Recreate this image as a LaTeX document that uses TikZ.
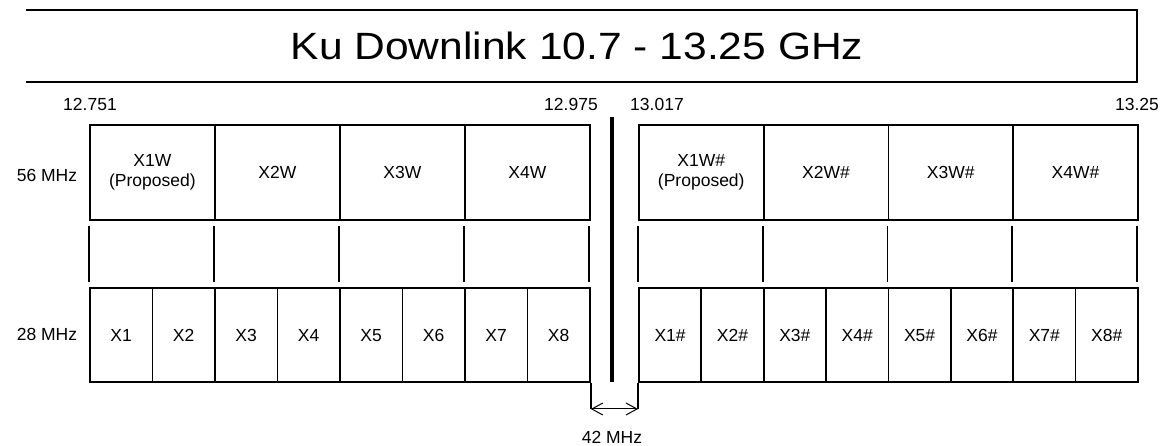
\documentclass[tikz,border=0pt]{standalone}
\usepackage{fontspec}
\setmainfont{Liberation Sans}
\usetikzlibrary{arrows.meta}
\begin{document}
\begin{tikzpicture}[x=1pt,y=-1pt,
  frame/.style={line width=1.8pt, line cap=rect},
  cell/.style={draw, line width=1.8pt, inner sep=0pt, anchor=north west, align=center,
    font=\fontsize{17.5}{20}\selectfont},
  onecell/.style={cell, text height=12.6pt, text depth=0pt},
  lbl/.style={inner sep=0pt, font=\fontsize{17.5}{20}\selectfont},
  gapline/.style={line width=3.5pt},
  dim/.style={line width=1pt, {Straight Barb[length=11pt,width=12pt]}-{Straight Barb[length=11pt,width=12pt]}}]
\useasboundingbox (0,0) rectangle (1168,446);
% title
\draw[frame] (27,10) -- (1137,10) -- (1137,82) -- (27,82);
\node[inner sep=0pt, font=\fontsize{38}{40}\selectfont] (title) at (577,46) {\scalebox{1.12}[1]{Ku Downlink 10.7 - 13.25 GHz}};
% frequency labels
\node[lbl] (f1) at (90,104) {12.751};
\node[lbl] (f2) at (571,104) {12.975};
\node[lbl] (f3) at (657,104) {13.017};
\node[lbl] (f4) at (1137,104) {13.25};
\node[lbl] (l56) at (47,175) {56 MHz};
\node[lbl] (l28) at (47,334) {28 MHz};
% left block, 56 MHz
\node[cell, minimum width=125pt, minimum height=95pt] (lw0) at (89,124) {X1W\\(Proposed)};
\foreach \t [count=\i from 1] in {X2W,X3W,X4W}
  \node[onecell, minimum width=125pt, minimum height=95pt] (lw\i) at (89+\i*125,124) {\t};
% right block, 56 MHz
\node[cell, minimum width=124.75pt, minimum height=95pt] (rw0) at (638,124) {X1W\#\\(Proposed)};
\foreach \t [count=\i from 1] in {X2W\#,X3W\#,X4W\#}
  \node[onecell, minimum width=124.75pt, minimum height=95pt] (rw\i) at (638+\i*124.75,124) {\t};
% empty row: vertical lines only
\foreach \i in {0,...,4}{
  \coordinate (la\i) at (89+\i*125,226);
  \coordinate (lb\i) at (89+\i*125,282);
  \draw[frame, line cap=butt] (la\i) -- (lb\i);
  \coordinate (ra\i) at (638+\i*124.75,226);
  \coordinate (rb\i) at (638+\i*124.75,282);
  \draw[frame, line cap=butt] (ra\i) -- (rb\i);
}
% 28 MHz rows
\foreach \i in {1,...,8}
  \node[onecell, minimum width=62.5pt, minimum height=94pt] (lx\i) at (89+\i*62.5-62.5,287) {X\i};
\foreach \i in {1,...,8}
  \node[onecell, minimum width=62.375pt, minimum height=94pt] (rx\i) at (638+\i*62.375-62.375,287) {X\i\#};
% centre gap line
\coordinate (g1) at (612,117);
\coordinate (g2) at (612,382);
\draw[gapline] (g1) -- (g2);
% 42 MHz dimension
\coordinate (d1) at (lx8.south east |- 0,409);
\coordinate (d2) at (rx1.south west |- 0,409);
\draw[frame, line cap=butt] (lx8.south east) -- (d1);
\draw[frame, line cap=butt] (rx1.south west) -- (d2);
\draw[dim] (d1) -- (d2);
\node[lbl] (l42) at (612,437) {42 MHz};
\end{tikzpicture}
\end{document}
